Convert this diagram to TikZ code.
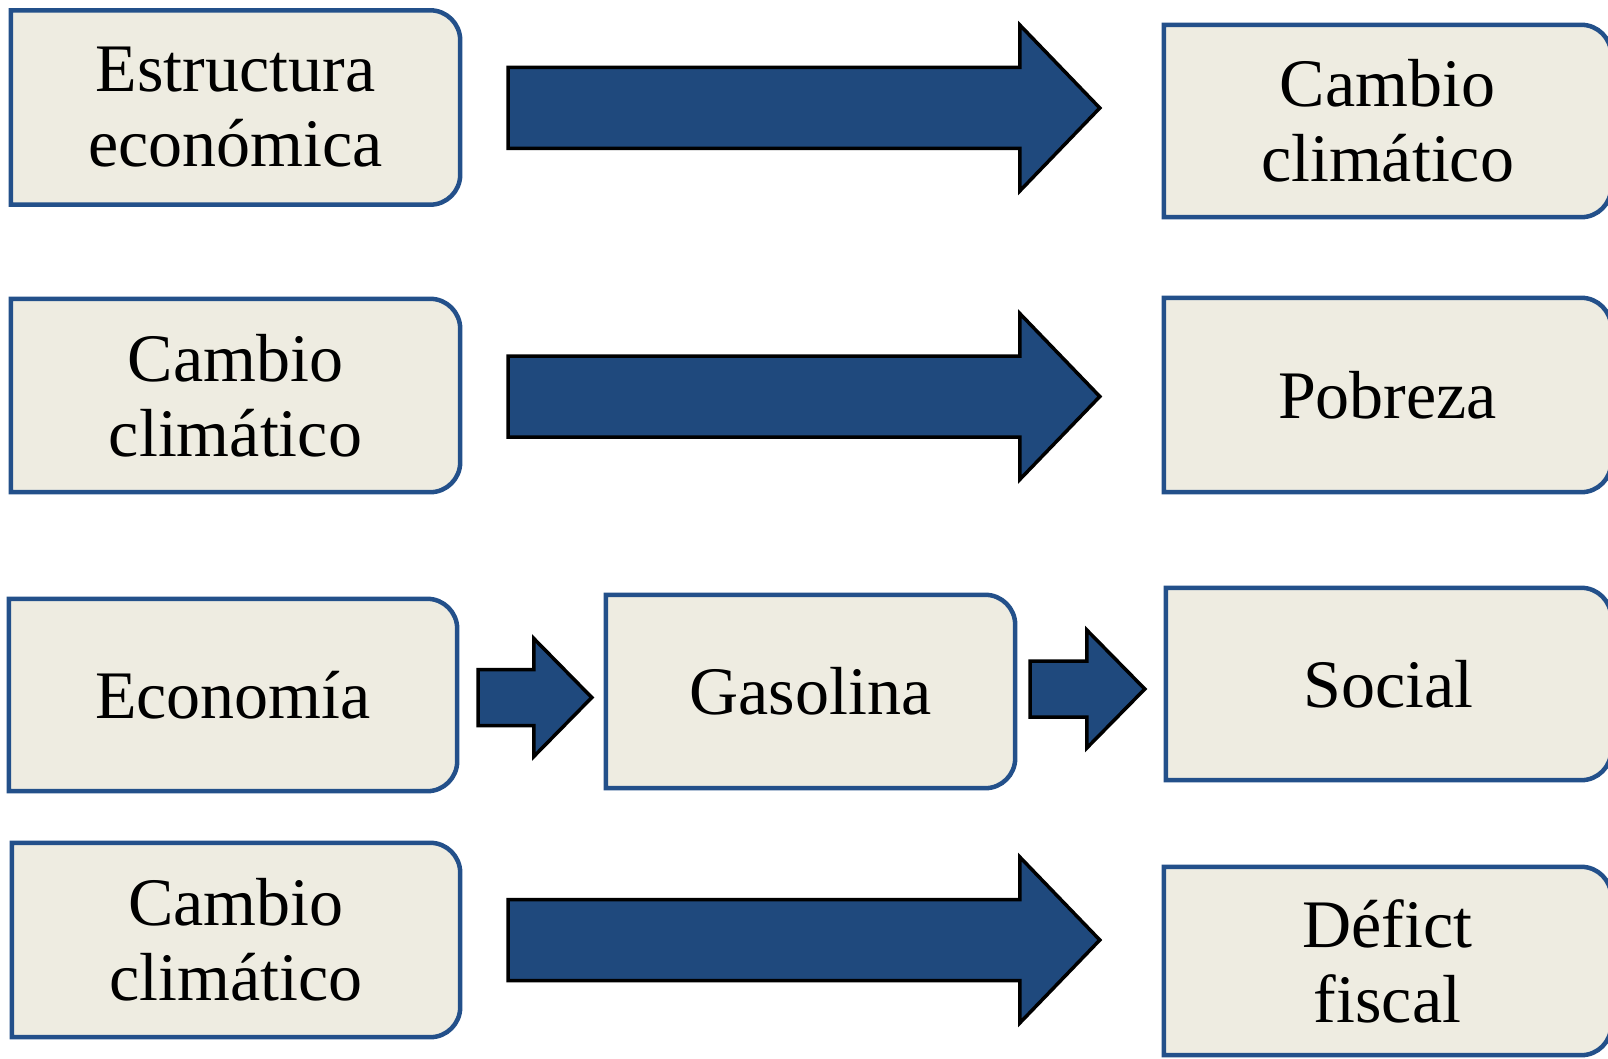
\documentclass[tikz,border=0pt]{standalone}
\usepackage{fontspec}
\setmainfont{Liberation Serif}
\usetikzlibrary{calc,backgrounds}

\definecolor{cajafondo}{HTML}{EEECE1}
\definecolor{cajaborde}{HTML}{23508A}
\definecolor{flechaazul}{HTML}{1F497D}

\tikzset{
	caja/.style={minimum width=449pt, minimum height=194pt, inner sep=0pt,
		align=center, font=\fontsize{68}{75}\selectfont},
	marco/.style={fill=cajafondo, draw=cajaborde, line width=4.5pt},
	flecha/.style={fill=flechaazul, draw=black, line width=3.5pt, line join=miter},
}

% frame of a box: square on the left, rounded on the right
\newcommand{\marcocaja}[1]{%
	\draw[marco] (#1.south west) -- (#1.north west) -- ([xshift=-30pt]#1.north east)
	arc[start angle=90, end angle=0, radius=30pt] -- ([yshift=30pt]#1.south east)
	arc[start angle=0, end angle=-90, radius=30pt] -- cycle;}

% block arrow: from, to, shaft half width, head half width, head length
\newcommand{\flechabloque}[5]{%
	\draw[flecha] let \p1=(#1), \p2=(#2) in
	(\x1,\y1+#3) -- (\x2-#5,\y1+#3) -- (\x2-#5,\y1+#4) -- (\x2,\y1)
	-- (\x2-#5,\y1-#4) -- (\x2-#5,\y1-#3) -- (\x1,\y1-#3) -- cycle;}

\begin{document}
\begin{tikzpicture}[x=1pt, y=-1pt]
	\useasboundingbox (0,0) rectangle (1608,1059);
	
	% --- row 1 ---
	\node[caja] (e1) at (235.5,107.5) {Estructura\\económica};
	\node[caja, minimum width=447pt, minimum height=192pt] (s1) at (1387.5,121) {Cambio\\climático};
	
	% --- row 2 ---
	\node[caja, minimum height=193pt] (e2) at (235.5,395.5) {Cambio\\climático};
	\node[caja, minimum width=447pt] (s2) at (1387.5,395) {Pobreza};
	
	% --- row 3: chain through Gasolina ---
	\node[caja, minimum width=448pt, minimum height=192pt] (e3) at (233,695) {Economía};
	\node[caja, minimum width=409pt, minimum height=193pt] (g) at (810.5,691.5) {Gasolina};
	\node[caja, minimum width=445pt, minimum height=192pt] (s3) at (1388.5,684) {Social};
	
	% --- row 4 ---
	\node[caja, minimum width=448pt] (e4) at (236,940) {Cambio\\climático};
	\node[caja, minimum width=447pt, minimum height=188pt] (s4) at (1387.5,961) {Défict\\fiscal};
	
	% frames behind the texts
	\begin{scope}[on background layer]
		\foreach \n in {e1,s1,e2,s2,e3,g,s3,e4,s4}
		\marcocaja{\n};
	\end{scope}
	
	% --- arrow ends ---
	\coordinate (a1) at ($(e1.east)+(48,0.5)$);
	\coordinate (b1) at ($(s1.west |- a1)+(-64,0)$);
	\coordinate (a2) at ($(e2.east)+(48,1)$);
	\coordinate (b2) at ($(s2.west |- a2)+(-64,0)$);
	\coordinate (a3) at ($(e3.east)+(21,2.5)$);
	\coordinate (b3) at ($(g.west |- a3)+(-14,0)$);
	\coordinate (a4) at ($(g.east)+(15,-2.5)$);
	\coordinate (b4) at ($(s3.west |- a4)+(-21,0)$);
	\coordinate (a5) at ($(e4.east)+(48,0)$);
	\coordinate (b5) at ($(s4.west |- a5)+(-64,0)$);
	
	% --- block arrows ---
	\flechabloque{a1}{b1}{40.5pt}{83pt}{80pt}
	\flechabloque{a2}{b2}{40.5pt}{83pt}{80pt}
	\flechabloque{a3}{b3}{28pt}{59pt}{58pt}
	\flechabloque{a4}{b4}{28pt}{59pt}{58pt}
	\flechabloque{a5}{b5}{40.5pt}{83pt}{80pt}
	
\end{tikzpicture}
\end{document}
